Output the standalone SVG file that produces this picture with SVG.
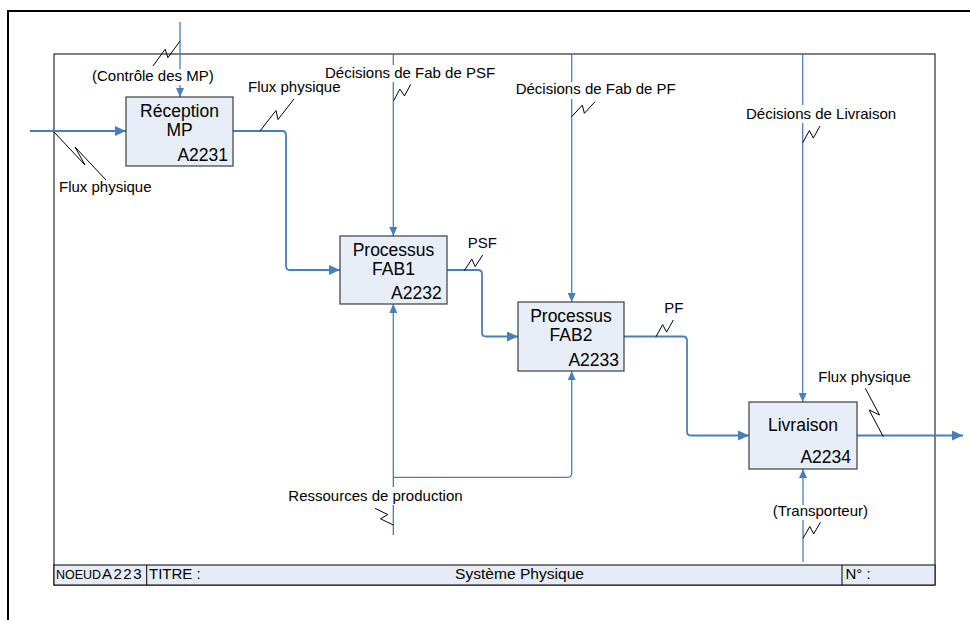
<svg xmlns="http://www.w3.org/2000/svg" width="970" height="620" viewBox="0 0 970 620">
<style>
text{font-family:"Liberation Sans",Arial,sans-serif;fill:#000}
.lbl{font-size:15px}
.bt{font-size:17.5px}
.bc{text-anchor:middle}
.be{text-anchor:end}
.ft{font-size:15px}
.box{fill:#e8eef8;stroke:#3c3c3c;stroke-width:1.2}
.flow{fill:none;stroke:#4a7ebb;stroke-width:1.8}
.ctl{fill:none;stroke:#4a7ebb;stroke-width:1.3}
.sq{fill:none;stroke:#000;stroke-width:1}
</style>
<defs>
<marker id="ah" markerUnits="userSpaceOnUse" markerWidth="11" markerHeight="10" refX="11" refY="5" orient="auto"><path d="M0,0 L11,5 L0,10 z" fill="#4a7ebb"/></marker>
<marker id="as" markerUnits="userSpaceOnUse" markerWidth="9" markerHeight="8" refX="9" refY="4" orient="auto"><path d="M0,0 L9,4 L0,8 z" fill="#4a7ebb"/></marker>
</defs>
<rect width="970" height="620" fill="#fff"/>
<g id="frame">
<path d="M8,620 V11 H970" fill="none" stroke="#000" stroke-width="2"/>
<rect x="54" y="54" width="881" height="531" fill="none" stroke="#000" stroke-width="1"/>
</g>
<g id="footer">
<rect x="54" y="565" width="881" height="20" fill="#e6ecf7" stroke="#000" stroke-width="1"/>
<line x1="146.7" y1="565" x2="146.7" y2="585" stroke="#000" stroke-width="1"/>
<line x1="842" y1="565" x2="842" y2="585" stroke="#000" stroke-width="1"/>
<text x="56" y="579" style="font-size:12.5px">NOEUD</text>
<text class="ft" x="102" y="579" style="letter-spacing:1.5px">A223</text>
<text class="ft" x="149" y="579">TITRE :</text>
<text class="ft" x="455" y="579" textLength="129" lengthAdjust="spacingAndGlyphs">Système Physique</text>
<text class="ft" x="845.5" y="579">N° :</text>
</g>
<g id="connectors">
<path class="flow" d="M30,131 H126" marker-end="url(#ah)"/>
<path class="flow" d="M233,131 H282 Q286,131 286,135 V266 Q286,270 290,270 H340" marker-end="url(#ah)"/>
<path class="flow" d="M447,270 H478 Q482,270 482,274 V332.5 Q482,336.5 486,336.5 H518" marker-end="url(#ah)"/>
<path class="flow" d="M624,336.5 H683 Q687,336.5 687,340.5 V431.5 Q687,435.5 691,435.5 H749" marker-end="url(#ah)"/>
<path class="flow" d="M857,435.5 H963" marker-end="url(#ah)"/>
<path class="ctl" d="M180,22 V69"/>
<path class="ctl" d="M180,85 V97" marker-end="url(#as)"/>
<path class="ctl" d="M393.3,54 V65"/>
<path class="ctl" d="M393.3,82 V236" marker-end="url(#as)"/>
<path class="ctl" d="M571.7,54 V82"/>
<path class="ctl" d="M571.7,99 V302" marker-end="url(#as)"/>
<path class="ctl" d="M802.7,54 V105"/>
<path class="ctl" d="M802.7,123 V402" marker-end="url(#as)"/>
<path class="ctl" d="M393.3,535 V505"/>
<path class="ctl" d="M393.3,487 V304" marker-end="url(#as)"/>
<path class="ctl" d="M393.3,477.3 H567.7 Q571.7,477.3 571.7,473.3 V371" marker-end="url(#as)"/>
<path class="ctl" d="M803,562 V520"/>
<path class="ctl" d="M803,505 V469" marker-end="url(#as)"/>
<polyline class="sq" points="180,41 167.9,57.7 165.1,49.3 153,66"/>
<polyline class="sq" points="54,132 85,165 75,147 106,180"/>
<polyline class="sq" points="260,131 276,110.5 278,119.5 294,99"/>
<polyline class="sq" points="393.7,100.7 399.9,89.1 404.5,95.9 410.7,84.3"/>
<polyline class="sq" points="571.7,116.7 582.3,105.1 584.4,113.3 595,101.7"/>
<polyline class="sq" points="802.7,142.7 809.4,130.6 813.3,138.1 820,126"/>
<polyline class="sq" points="464.3,270.7 471.8,259.1 475.2,266.6 482.7,255"/>
<polyline class="sq" points="656,336.7 662.7,324.6 666.6,332.1 673.3,320"/>
<polyline class="sq" points="883.3,436.7 869.1,410 879.5,415 865.3,388.3"/>
<polyline class="sq" points="393.3,525 380.5,518.8 387.8,514.6 375,508.3"/>
<polyline class="sq" points="803,538.3 809.8,526.5 813.7,534 820.5,522.2"/>
</g>
<g id="labels">
<text class="lbl" x="92" y="81">(Contrôle des MP)</text>
<text class="lbl" x="59" y="192">Flux physique</text>
<text class="lbl" x="248" y="92">Flux physique</text>
<text class="lbl" x="325" y="77.5">Décisions de Fab de PSF</text>
<text class="lbl" x="515.7" y="93.5">Décisions de Fab de PF</text>
<text class="lbl" x="746" y="119">Décisions de Livraison</text>
<text class="lbl" x="467.7" y="247.7">PSF</text>
<text class="lbl" x="664.3" y="313.3">PF</text>
<text class="lbl" x="818.3" y="382">Flux physique</text>
<text class="lbl" x="288.3" y="501">Ressources de production</text>
<text class="lbl" x="772.7" y="516">(Transporteur)</text>
</g>
<g id="A2231">
<rect class="box" x="126" y="97" width="107" height="69"/>
<text class="bt bc" x="179.5" y="117">Réception</text>
<text class="bt bc" x="179.5" y="136">MP</text>
<text class="bt be" x="228" y="161">A2231</text>
</g>
<g id="A2232">
<rect class="box" x="340" y="236" width="107" height="68"/>
<text class="bt bc" x="393.5" y="256">Processus</text>
<text class="bt bc" x="393.5" y="275">FAB1</text>
<text class="bt be" x="441.7" y="299">A2232</text>
</g>
<g id="A2233">
<rect class="box" x="518" y="302" width="106" height="69"/>
<text class="bt bc" x="571" y="321.7">Processus</text>
<text class="bt bc" x="571" y="340.7">FAB2</text>
<text class="bt be" x="619" y="365.7">A2233</text>
</g>
<g id="A2234">
<rect class="box" x="749" y="402" width="108" height="67"/>
<text class="bt bc" x="803" y="431">Livraison</text>
<text class="bt be" x="851" y="463.3">A2234</text>
</g>
</svg>
